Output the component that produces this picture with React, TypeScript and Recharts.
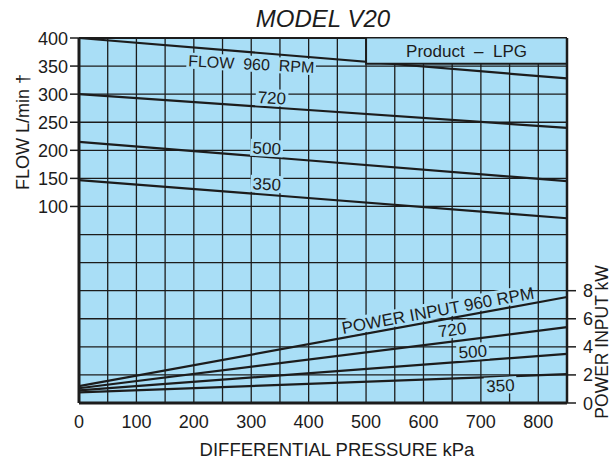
import React from 'react';
import {
  LineChart,
  Line,
  XAxis,
  YAxis,
  CartesianGrid,
  ReferenceDot,
  ReferenceLine,
} from 'recharts';

const BG = '#a9def6';
const INK = '#1c1c1c';
const FONT = "'Liberation Sans', Arial, sans-serif";

// differential pressure (kPa) at which each curve is read
const pressure = [0, 850];

// flow curves, L/min
const flow960 = [400, 328];
const flow720 = [300, 240];
const flow500 = [215, 145];
const flow350 = [147, 79];

// power input curves, kW
const power960 = [1.2, 7.55];
const power720 = [1.05, 5.4];
const power500 = [0.9, 3.5];
const power350 = [0.75, 2.05];

// "Product - LPG" note box in the top right corner (kPa, L/min)
const boxPressure = [500, 675, 850];
const boxTop = 400;
const boxBottom = 354;
const boxText = 'Product  –  LPG';

// axes
const pressureTicks = [0, 100, 200, 300, 400, 500, 600, 700, 800];
const pressureGrid = [0, 50, 100, 150, 200, 250, 300, 350, 400, 450, 500, 550, 600, 650, 700, 750, 800, 850];
const flowTicks = [100, 150, 200, 250, 300, 350, 400];
const flowGrid = [-250, -200, -150, -100, -50, 0, 50, 100, 150, 200, 250, 300, 350, 400];
const powerTicks = [0, 2, 4, 6, 8];

// curve labels, anchored in data units
const flowTags = [
  { text: 'FLOW  960  RPM', p: 300, v: 354, angle: 3 },
  { text: '720', p: 336, v: 294, angle: 3 },
  { text: '500', p: 327, v: 204, angle: 3 },
  { text: '350', p: 327, v: 140, angle: 3 },
];
const powerTags = [
  { text: 'POWER INPUT 960 RPM', p: 625, v: 6.62, angle: -10.5 },
  { text: '720', p: 650, v: 5.23, angle: -8 },
  { text: '500', p: 686, v: 3.67, angle: -4 },
  { text: '350', p: 734, v: 1.25, angle: -3 },
];

const toPoints = (vals: number[]) => pressure.map((p, i) => ({ p, v: vals[i] }));
const boxMid = (boxTop + boxBottom) / 2;
const boxFillData = boxPressure.map((p) => ({ p, v: boxMid }));
const boxEdgeData = [
  { p: boxPressure[0], v: boxTop },
  { p: boxPressure[0], v: boxBottom },
  { p: boxPressure[boxPressure.length - 1], v: boxBottom },
];

const FlowTick = (props: any) => {
  const { x, y, payload } = props;
  if (!flowTicks.includes(payload.value)) return null;
  return (
    <g>
      <line x1={x - 9} x2={x} y1={y} y2={y} stroke={INK} strokeWidth={1.5} />
      <text x={x - 11} y={y + 6.5} textAnchor="end" fontSize={18} fill={INK} fontFamily={FONT}>
        {payload.value}
      </text>
    </g>
  );
};

const PowerTick = (props: any) => {
  const { x, y, payload } = props;
  return (
    <g>
      <line x1={x} x2={x + 9} y1={y} y2={y} stroke={INK} strokeWidth={1.5} />
      <text x={x + 16} y={y + 6.5} textAnchor="start" fontSize={18} fill={INK} fontFamily={FONT}>
        {payload.value}
      </text>
    </g>
  );
};

const PressureTick = (props: any) => {
  const { x, y, payload } = props;
  if (!pressureTicks.includes(payload.value)) return null;
  return (
    <text x={x} y={y + 25} textAnchor="middle" fontSize={18} fill={INK} fontFamily={FONT}>
      {payload.value}
    </text>
  );
};

const Tag = ({ cx, cy, text, angle, size = 17, mask = true }: any) => {
  const w = text.length * size * 0.56 + 4;
  return (
    <g transform={`translate(${cx},${cy}) rotate(${angle})`}>
      {mask && <rect x={-w / 2} y={-size * 0.5} width={w} height={size} fill={BG} />}
      <text x={0} y={size * 0.36} textAnchor="middle" fontSize={size} fill={INK} fontFamily={FONT} style={{ whiteSpace: 'pre' }}>
        {text}
      </text>
    </g>
  );
};

// the middle point of the box fill carries the box caption
const BoxCaption = (props: any) =>
  props.index === 1 ? <Tag key="cap" cx={props.cx} cy={props.cy} text={boxText} angle={0} mask={false} /> : <g key={props.index} />;

const curve = (vals: number[], axis: string, key: string) => (
  <Line
    key={key}
    data={toPoints(vals)}
    dataKey="v"
    yAxisId={axis}
    stroke={INK}
    strokeWidth={2.2}
    dot={false}
    activeDot={false}
    isAnimationActive={false}
  />
);

export default function App() {
  return (
    <div style={{ position: 'absolute', left: 0, top: 0, width: 613, height: 464, background: '#fff', overflow: 'hidden' }}>
      <LineChart width={613} height={464} margin={{ top: 38, right: 6, bottom: 0, left: 19 }}>
        <CartesianGrid yAxisId="flow" fill={BG} fillOpacity={1} stroke={INK} strokeWidth={1.3} />
        <XAxis
          dataKey="p"
          type="number"
          domain={[0, 850]}
          ticks={pressureGrid}
          interval={0}
          height={61}
          tickSize={0}
          tickMargin={0}
          tick={<PressureTick />}
          axisLine={{ stroke: INK, strokeWidth: 3 }}
        />
        <YAxis
          yAxisId="flow"
          orientation="left"
          type="number"
          domain={[-250, 400]}
          ticks={flowGrid}
          interval={0}
          width={60}
          tickSize={0}
          tickMargin={0}
          tick={<FlowTick />}
          axisLine={{ stroke: INK, strokeWidth: 3 }}
        />
        <YAxis
          yAxisId="power"
          orientation="right"
          type="number"
          domain={[0, 26]}
          ticks={powerTicks}
          interval={0}
          width={40}
          tickSize={0}
          tickMargin={0}
          tick={<PowerTick />}
          axisLine={{ stroke: INK, strokeWidth: 2.5 }}
        />
        <ReferenceLine yAxisId="flow" y={400} stroke={INK} strokeWidth={2.2} />

        {curve(flow960, 'flow', 'f960')}
        {curve(flow720, 'flow', 'f720')}
        {curve(flow500, 'flow', 'f500')}
        {curve(flow350, 'flow', 'f350')}
        {curve(power960, 'power', 'p960')}
        {curve(power720, 'power', 'p720')}
        {curve(power500, 'power', 'p500')}
        {curve(power350, 'power', 'p350')}

        {/* note box: a wide light stroke hides the curve, then its edges and caption */}
        <Line
          data={boxFillData}
          dataKey="v"
          yAxisId="flow"
          type="linear"
          stroke={BG}
          strokeWidth={25}
          strokeLinecap="butt"
          dot={BoxCaption}
          activeDot={false}
          isAnimationActive={false}
        />
        <Line
          data={boxEdgeData}
          dataKey="v"
          yAxisId="flow"
          type="linear"
          stroke={INK}
          strokeWidth={2}
          dot={false}
          activeDot={false}
          isAnimationActive={false}
        />

        {flowTags.map((t) => (
          <ReferenceDot
            key={'ft' + t.text}
            yAxisId="flow"
            x={t.p}
            y={t.v}
            r={0}
            ifOverflow="visible"
            shape={(props: any) => <Tag {...props} text={t.text} angle={t.angle} size={t.text.length > 3 ? 16 : 17} />}
          />
        ))}
        {powerTags.map((t) => (
          <ReferenceDot
            key={'pt' + t.text}
            yAxisId="power"
            x={t.p}
            y={t.v}
            r={0}
            ifOverflow="visible"
            shape={(props: any) => <Tag {...props} text={t.text} angle={t.angle} />}
          />
        ))}
      </LineChart>

      <svg width={613} height={464} style={{ position: 'absolute', left: 0, top: 0, pointerEvents: 'none' }}>
        <text x={323} y={27} textAnchor="middle" fontSize={24} fontStyle="italic" fill={INK} fontFamily={FONT}>
          MODEL V20
        </text>
        <text x={337} y={456} textAnchor="middle" fontSize={18.5} fill={INK} fontFamily={FONT}>
          DIFFERENTIAL PRESSURE kPa
        </text>
        <text transform="translate(29,132) rotate(-90)" textAnchor="middle" fontSize={18} fill={INK} fontFamily={FONT}>
          FLOW L/min †
        </text>
        <text transform="translate(608,342) rotate(-90)" textAnchor="middle" fontSize={17.5} fill={INK} fontFamily={FONT}>
          POWER INPUT kW
        </text>
      </svg>
    </div>
  );
}
